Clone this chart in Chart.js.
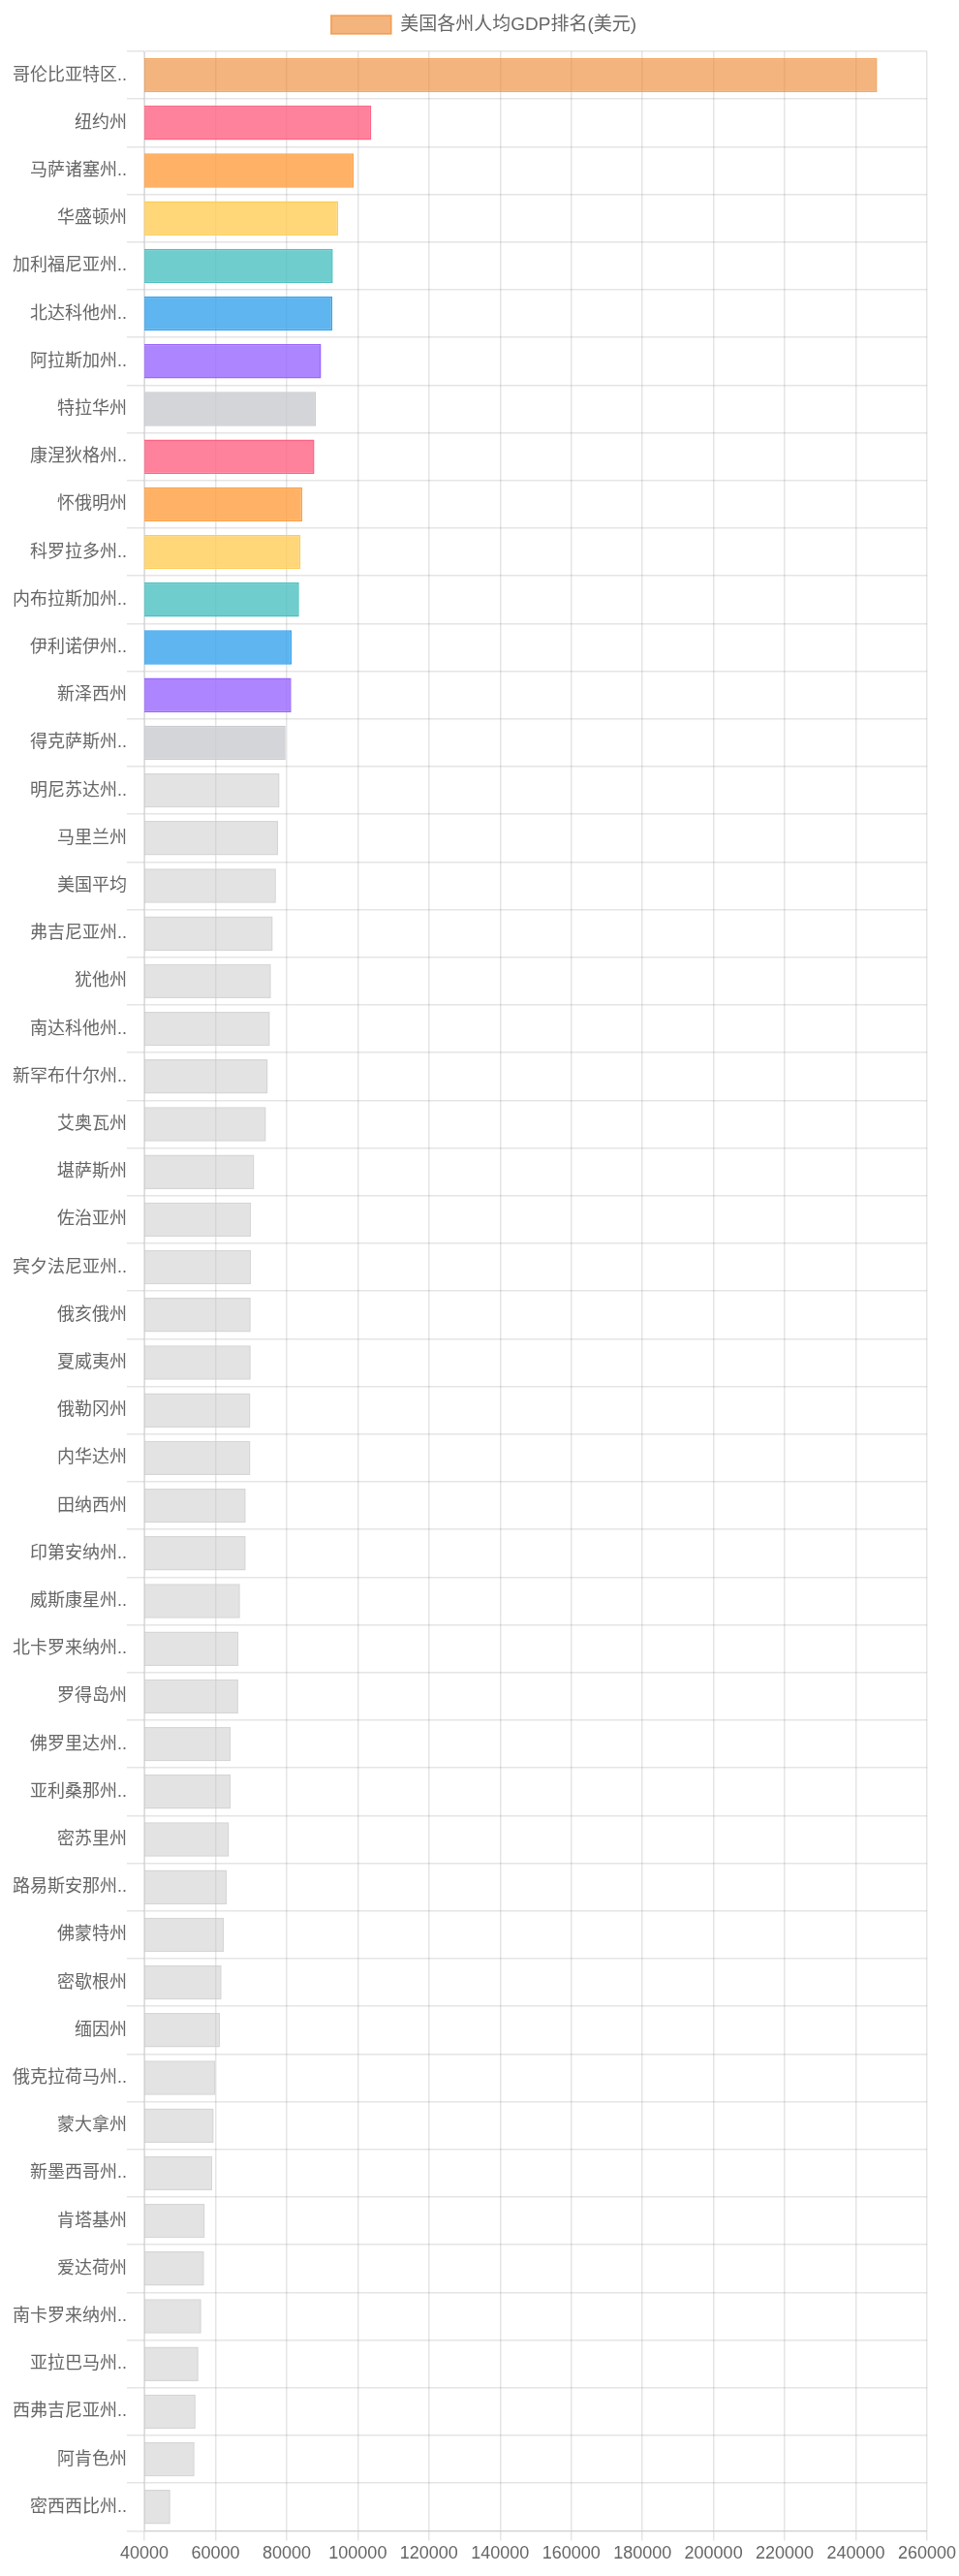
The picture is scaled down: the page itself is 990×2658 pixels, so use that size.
<!DOCTYPE html>
<html>
<head>
<meta charset="utf-8">
<title>美国各州人均GDP排名</title>
<script src="https://cdn.jsdelivr.net/npm/chart.js@4.4.1/dist/chart.umd.min.js"></script>
<style>
    html, body { margin: 0; padding: 0; background: #fff; }
    #wrap { width: 990px; height: 2658px; position: relative; }
</style>
</head>
<body>
<div id="wrap"><canvas id="gdpChart"></canvas></div>
<script>
// state names, ranked by GDP per capita
const states = [
    "哥伦比亚特区", "纽约州", "马萨诸塞州", "华盛顿州", "加利福尼亚州", "北达科他州",
    "阿拉斯加州", "特拉华州", "康涅狄格州", "怀俄明州", "科罗拉多州", "内布拉斯加州",
    "伊利诺伊州", "新泽西州", "得克萨斯州", "明尼苏达州", "马里兰州", "美国平均",
    "弗吉尼亚州", "犹他州", "南达科他州", "新罕布什尔州", "艾奥瓦州", "堪萨斯州",
    "佐治亚州", "宾夕法尼亚州", "俄亥俄州", "夏威夷州", "俄勒冈州", "内华达州",
    "田纳西州", "印第安纳州", "威斯康星州", "北卡罗来纳州", "罗得岛州", "佛罗里达州",
    "亚利桑那州", "密苏里州", "路易斯安那州", "佛蒙特州", "密歇根州", "缅因州",
    "俄克拉荷马州", "蒙大拿州", "新墨西哥州", "肯塔基州", "爱达荷州", "南卡罗来纳州",
    "亚拉巴马州", "西弗吉尼亚州", "阿肯色州", "密西西比州"
];

// GDP per capita in US dollars
const gdpPerCapita = [
    246000, 103800, 98850, 94500, 93000, 92850,
    89700, 88200, 87800, 84400, 83900, 83500,
    81400, 81300, 79700, 78000, 77600, 77000,
    76100, 75600, 75300, 74700, 74200, 70900,
    70000, 70000, 69900, 69900, 69800, 69800,
    68500, 68500, 66900, 66500, 66400, 64300,
    64300, 63800, 63200, 62400, 61700, 61300,
    60000, 59500, 59100, 57000, 56800, 56000,
    55200, 54400, 54100, 47300
];

const xMin = 40000;
const xMax = 260000;
const xStep = 20000;

// palette: first bar is its own orange, the next 14 cycle through the usual colours, the rest are grey
const topColors = [
    [255, 99, 132], [255, 159, 64], [255, 205, 86], [75, 192, 192],
    [54, 162, 235], [153, 102, 255], [201, 203, 207]
];

const fills = [];
const borders = [];
gdpPerCapita.forEach((v, i) => {
    if (i === 0) {
        fills.push('rgba(235, 130, 40, 0.6)');
        borders.push('rgba(240, 140, 50, 0.75)');
    } else if (i <= 14) {
        const c = topColors[(i - 1) % topColors.length];
        fills.push(`rgba(${c[0]}, ${c[1]}, ${c[2]}, 0.8)`);
        borders.push(`rgb(${c[0]}, ${c[1]}, ${c[2]})`);
    } else {
        fills.push('rgba(200, 200, 200, 0.5)');
        borders.push('rgba(200, 200, 200, 0.75)');
    }
});

const FONT = "'Liberation Sans', 'Noto Sans CJK SC', sans-serif";
Chart.defaults.font.family = FONT;
Chart.defaults.font.size = 18;
Chart.defaults.color = '#666';

// a bit more room under the legend
const legendGap = {
    id: 'legendGap',
    beforeInit(chart) {
        const fitLegend = chart.legend.fit;
        chart.legend.fit = function() {
            fitLegend.bind(chart.legend)();
            this.height += 8;
        };
    }
};

const ctx = document.getElementById('gdpChart').getContext('2d');
const chart = new Chart(ctx, {
    type: 'bar',
    data: {
        labels: states,
        datasets: [{
            label: '美国各州人均GDP排名(美元)',
            data: gdpPerCapita,
            backgroundColor: fills,
            borderColor: borders,
            borderWidth: 1.5
        }]
    },
    options: {
        indexAxis: 'y',
        responsive: true,
        maintainAspectRatio: false,
        animation: false,
        layout: {
            padding: { left: 13, right: 4, bottom: 9 }
        },
        plugins: {
            legend: {
                display: true,
                position: 'top',
                labels: {
                    boxWidth: 62,
                    boxHeight: 19,
                    padding: 16,
                    font: { size: 19, family: FONT },
                    color: '#666'
                }
            },
            tooltip: { enabled: true }
        },
        scales: {
            x: {
                min: xMin,
                max: xMax,
                ticks: {
                    stepSize: xStep,
                    padding: 3,
                    font: { size: 18, family: FONT },
                    color: '#666',
                    callback: value => String(value)
                },
                grid: {
                    color: 'rgba(0, 0, 0, 0.1)',
                    lineWidth: 1.5,
                    tickLength: 10
                }
            },
            y: {
                ticks: {
                    padding: 0,
                    font: { size: 18, family: FONT },
                    color: '#666',
                    callback: function(value) {
                        const name = this.getLabelForValue(value);
                        // long names get cut with two dots, like the original
                        return name.length > 4 ? name + '..' : name;
                    }
                },
                grid: {
                    color: 'rgba(0, 0, 0, 0.1)',
                    lineWidth: 1.5,
                    tickLength: 18
                }
            }
        }
    },
    plugins: [legendGap]
});
</script>
</body>
</html>
